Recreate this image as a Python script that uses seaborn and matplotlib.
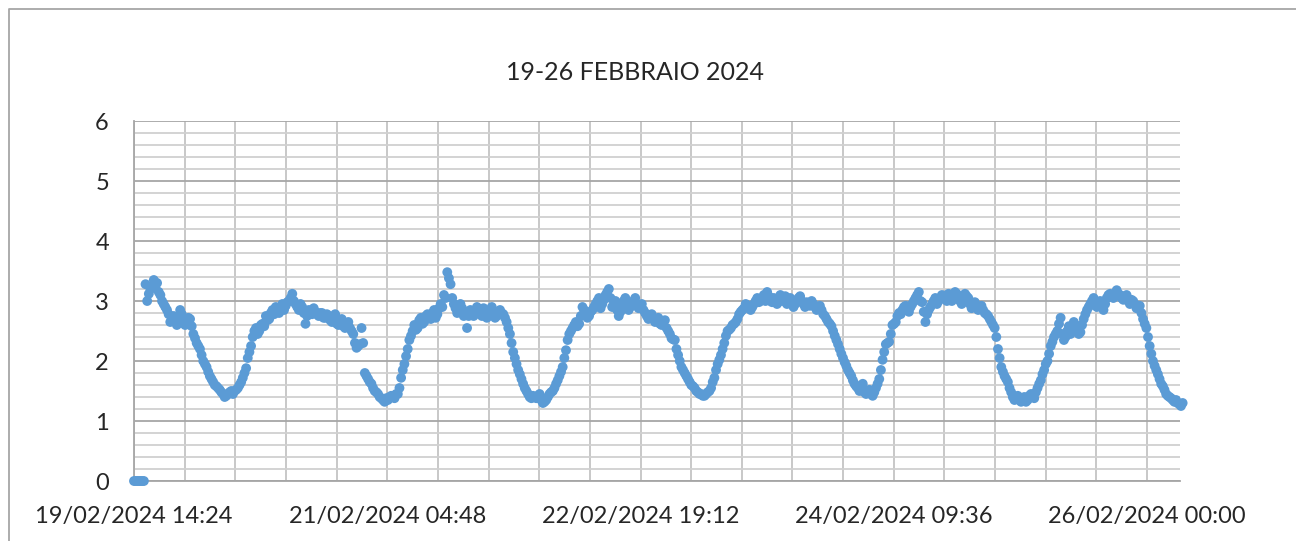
import numpy as np
import pandas as pd
import matplotlib
matplotlib.use('Agg')
import matplotlib.pyplot as plt
import matplotlib.dates as mdates
from matplotlib.lines import Line2D
from matplotlib.ticker import MultipleLocator, FixedLocator
import seaborn as sns

# readings every 30 minutes starting 19/02/2024 14:24 ...
start = pd.Timestamp('2024-02-19 14:24')
step = '30min'

vals_a = [0, 0, 0, 0,
          3.0, 3.2, 3.35, 3.3, 3.1, 2.95, 2.85, 2.65, 2.75, 2.6,
          2.85, 2.7, 2.65, 2.7, 2.45, 2.3, 2.2, 2.0, 1.9, 1.75,
          1.65, 1.58, 1.52, 1.45, 1.42, 1.48, 1.45, 1.52, 1.6, 1.72,
          1.88, 2.15, 2.4, 2.55, 2.5, 2.62, 2.75, 2.7, 2.85, 2.9,
          2.8, 2.95, 2.92, 3.0]
vals_b = [3.12, 2.95, 2.85, 2.9, 2.62, 2.85, 2.78, 2.82, 2.75, 2.8,
          2.72, 2.75, 2.65, 2.78, 2.6, 2.7, 2.55, 2.65, 2.5, 2.3,
          2.25, 2.55, 1.8, 1.7, 1.62, 1.5, 1.45, 1.38, 1.32, 1.35,
          1.42, 1.38, 1.45, 1.72, 1.95, 2.2, 2.42, 2.6, 2.55, 2.72,
          2.65, 2.78, 2.7, 2.85, 2.78, 2.95, 3.1, 3.48]
vals_c = [3.28, 2.95, 2.8, 2.95, 2.75, 2.55, 2.85, 2.75, 2.9, 2.8,
          2.88, 2.72, 2.85, 2.8, 2.75, 2.85, 2.78, 2.65, 2.45, 2.15,
          1.95, 1.78, 1.62, 1.5, 1.4, 1.42, 1.38, 1.45, 1.3, 1.35,
          1.45, 1.5, 1.62, 1.75, 1.9, 2.18, 2.45, 2.55, 2.65, 2.62,
          2.9, 2.8, 2.75, 2.85, 2.95, 3.05, 2.95, 3.1]
vals_d = [3.2, 2.9, 3.0, 2.75, 2.9, 3.05, 2.85, 2.95, 3.05, 2.88,
          2.95, 2.8, 2.7, 2.78, 2.65, 2.72, 2.6, 2.68, 2.5, 2.38,
          2.35, 2.1, 1.9, 1.8, 1.7, 1.6, 1.55, 1.48, 1.45, 1.42,
          1.48, 1.55, 1.72, 1.95, 2.1, 2.3, 2.5, 2.55, 2.62, 2.7,
          2.82, 2.88, 2.92, 2.85, 2.95, 3.05, 3.0, 3.1]
vals_e = [3.15, 3.0, 3.05, 2.95, 3.1, 3.02, 2.95, 3.05, 2.9, 3.0,
          3.08, 2.95, 2.98, 2.92, 2.95, 2.85, 2.92, 2.78, 2.7, 2.62,
          2.5, 2.35, 2.2, 2.05, 1.92, 1.8, 1.68, 1.58, 1.5, 1.62,
          1.45, 1.52, 1.42, 1.55, 1.7, 2.02, 2.28, 2.32, 2.6, 2.65,
          2.8, 2.85, 2.92, 2.82, 2.95, 3.05, 3.15, 2.98]
vals_f = [2.65, 2.85, 2.95, 3.05, 3.0, 3.1, 3.05, 3.12, 3.0, 3.15,
          3.08, 2.95, 3.12, 3.05, 2.88, 2.98, 2.85, 2.92, 2.8, 2.75,
          2.65, 2.55, 2.2, 1.9, 1.75, 1.65, 1.48, 1.35, 1.42, 1.32,
          1.4, 1.35, 1.45, 1.38, 1.55, 1.68, 1.85, 2.0, 2.25, 2.4,
          2.5, 2.72, 2.35, 2.5, 2.45, 2.65, 2.55, 2.48]
vals_g = [2.7, 2.85, 2.95, 3.05, 2.9, 3.0, 2.85, 3.05, 3.12, 3.05,
          3.18, 3.1, 3.02, 3.1, 2.95, 3.0, 2.88, 2.92, 2.7, 2.55,
          2.25, 2.0, 1.85, 1.7, 1.58, 1.45, 1.4, 1.35, 1.35, 1.28, 1.3]

# ... and the readings taken 15 minutes after each of those
vals_a2 = [0, 0, 0, 3.28,
           3.12, 3.25, 3.22, 3.15, 3.0, 2.9, 2.78, 2.7, 2.68, 2.68,
           2.78, 2.6, 2.72, 2.58, 2.38, 2.25, 2.1, 1.95, 1.82, 1.7,
           1.6, 1.55, 1.48, 1.4, 1.45, 1.5, 1.5, 1.55, 1.65, 1.8,
           2.05, 2.25, 2.5, 2.45, 2.6, 2.58, 2.68, 2.8, 2.78, 2.85,
           2.9, 2.85, 2.98, 3.05]
vals_b2 = [3.0, 2.9, 2.95, 2.8, 2.75, 2.8, 2.88, 2.78, 2.8, 2.72,
           2.78, 2.68, 2.72, 2.62, 2.68, 2.58, 2.62, 2.55, 2.45, 2.22,
           2.28, 2.3, 1.75, 1.65, 1.55, 1.48, 1.4, 1.35, 1.38, 1.4,
           1.4, 1.45, 1.55, 1.85, 2.08, 2.35, 2.5, 2.52, 2.68, 2.62,
           2.75, 2.72, 2.8, 2.72, 2.88, 2.9, 3.05, 3.38]
vals_c2 = [3.05, 2.88, 2.85, 2.88, 2.82, 2.75, 2.8, 2.82, 2.85, 2.75,
           2.8, 2.78, 2.9, 2.72, 2.82, 2.8, 2.72, 2.55, 2.3, 2.05,
           1.85, 1.7, 1.55, 1.45, 1.38, 1.4, 1.42, 1.35, 1.32, 1.4,
           1.48, 1.55, 1.68, 1.82, 2.05, 2.35, 2.5, 2.6, 2.58, 2.75,
           2.85, 2.72, 2.82, 2.9, 3.0, 2.88, 3.02, 3.15]
vals_d2 = [3.05, 2.95, 2.85, 2.82, 3.0, 2.95, 2.9, 3.0, 2.95, 2.92,
           2.85, 2.75, 2.72, 2.7, 2.7, 2.62, 2.65, 2.55, 2.45, 2.36,
           2.2, 2.0, 1.85, 1.75, 1.65, 1.58, 1.5, 1.45, 1.42, 1.45,
           1.5, 1.65, 1.85, 2.02, 2.2, 2.42, 2.52, 2.6, 2.65, 2.78,
           2.85, 2.95, 2.88, 2.9, 3.0, 2.98, 3.05, 3.0]
vals_e2 = [3.08, 2.98, 3.0, 3.05, 3.0, 3.08, 2.98, 3.0, 2.95, 3.05,
           3.0, 2.9, 2.95, 3.0, 2.9, 2.88, 2.85, 2.75, 2.65, 2.58,
           2.42, 2.28, 2.12, 1.98, 1.85, 1.75, 1.62, 1.55, 1.58, 1.48,
           1.5, 1.45, 1.48, 1.62, 1.85, 2.15, 2.3, 2.45, 2.62, 2.75,
           2.78, 2.9, 2.85, 2.9, 3.0, 3.1, 3.0, 2.82]
vals_f2 = [2.78, 2.9, 3.0, 2.95, 3.05, 3.08, 3.0, 3.05, 3.1, 3.12,
           3.0, 3.05, 3.08, 2.95, 2.92, 2.9, 2.9, 2.85, 2.78, 2.7,
           2.6, 2.4, 2.05, 1.82, 1.7, 1.55, 1.4, 1.38, 1.35, 1.38,
           1.32, 1.42, 1.4, 1.48, 1.62, 1.78, 1.95, 2.12, 2.32, 2.45,
           2.62, 2.45, 2.4, 2.58, 2.5, 2.6, 2.45, 2.6]
vals_g2 = [2.78, 2.9, 3.0, 2.95, 2.95, 2.92, 2.95, 3.1, 3.08, 3.12,
           3.12, 3.05, 3.08, 3.0, 3.02, 2.95, 2.9, 2.8, 2.62, 2.4,
           2.12, 1.92, 1.78, 1.62, 1.52, 1.42, 1.38, 1.32, 1.3, 1.25]

tick_labels_every = '2304min'   # 1 day 14:24
minor_every = '27648s'          # a fifth of that

values1 = vals_a + vals_b + vals_c + vals_d + vals_e + vals_f + vals_g
values2 = vals_a2 + vals_b2 + vals_c2 + vals_d2 + vals_e2 + vals_f2 + vals_g2
df1 = pd.DataFrame({'time': pd.date_range(start, periods=len(values1), freq=step),
                    'value': values1})
df2 = pd.DataFrame({'time': pd.date_range(start + pd.Timedelta('15min'),
                                          periods=len(values2), freq=step),
                    'value': values2})
df = pd.concat([df1, df2]).sort_values('time')

sns.set_style('white')
plt.rcParams['font.family'] = ['Lato', 'DejaVu Sans']

fig = plt.figure(figsize=(12.96, 5.41), dpi=100)
ax = fig.add_axes([134/1296, 60/541, 1046/1296, 360/541])

sns.scatterplot(data=df, x='time', y='value', ax=ax, color='#5b9bd5',
                s=50, edgecolor='none', linewidth=0, zorder=3)
for c in ax.collections:
    c.set_clip_on(False)

ax.set_ylim(0, 6)
ax.set_xlim(start, start + pd.Timedelta(hours=158.6))

major = pd.date_range(start, periods=5, freq=tick_labels_every)
minor = pd.date_range(start, periods=21, freq=minor_every)
ax.xaxis.set_major_locator(FixedLocator(mdates.date2num(major)))
ax.xaxis.set_minor_locator(FixedLocator(mdates.date2num(minor)))
ax.xaxis.set_major_formatter(mdates.DateFormatter('%d/%m/%Y %H:%M'))
ax.yaxis.set_major_locator(MultipleLocator(1))
ax.yaxis.set_minor_locator(MultipleLocator(0.2))

ax.set_axisbelow(True)
ax.grid(which='major', axis='y', color='#a6a6a6', lw=1.3)
ax.grid(which='minor', axis='y', color='#d0d0d0', lw=1.3)
ax.grid(which='both', axis='x', color='#c4c4c4', lw=1.3)

for s in ['top', 'right']:
    ax.spines[s].set_visible(False)
for s in ['left', 'bottom']:
    ax.spines[s].set_color('#a6a6a6')
    ax.spines[s].set_linewidth(1.3)

ax.tick_params(axis='y', which='major', direction='out', length=5, width=1.3,
               color='#a6a6a6', pad=13, labelsize=17)
ax.tick_params(axis='y', which='minor', direction='in', length=4, width=1.3,
               color='#a6a6a6')
ax.tick_params(axis='x', which='major', direction='out', length=6, width=1.3,
               color='#a6a6a6', pad=12, labelsize=17)
ax.tick_params(axis='x', which='minor', length=0)
ax.set_xlabel('')
ax.set_ylabel('')

fig.text(635/1296, 1 - 72/541, '19-26 FEBBRAIO 2024', ha='center', va='center',
         fontsize=18)

# chart area border (cut by the picture edges)
fig.add_artist(Line2D([9/1296, 9/1296, 1.0], [0.0, 1 - 9/541, 1 - 9/541],
                      transform=fig.transFigure, color='#a6a6a6', lw=1.3))

fig.savefig('out.png', dpi=100)
